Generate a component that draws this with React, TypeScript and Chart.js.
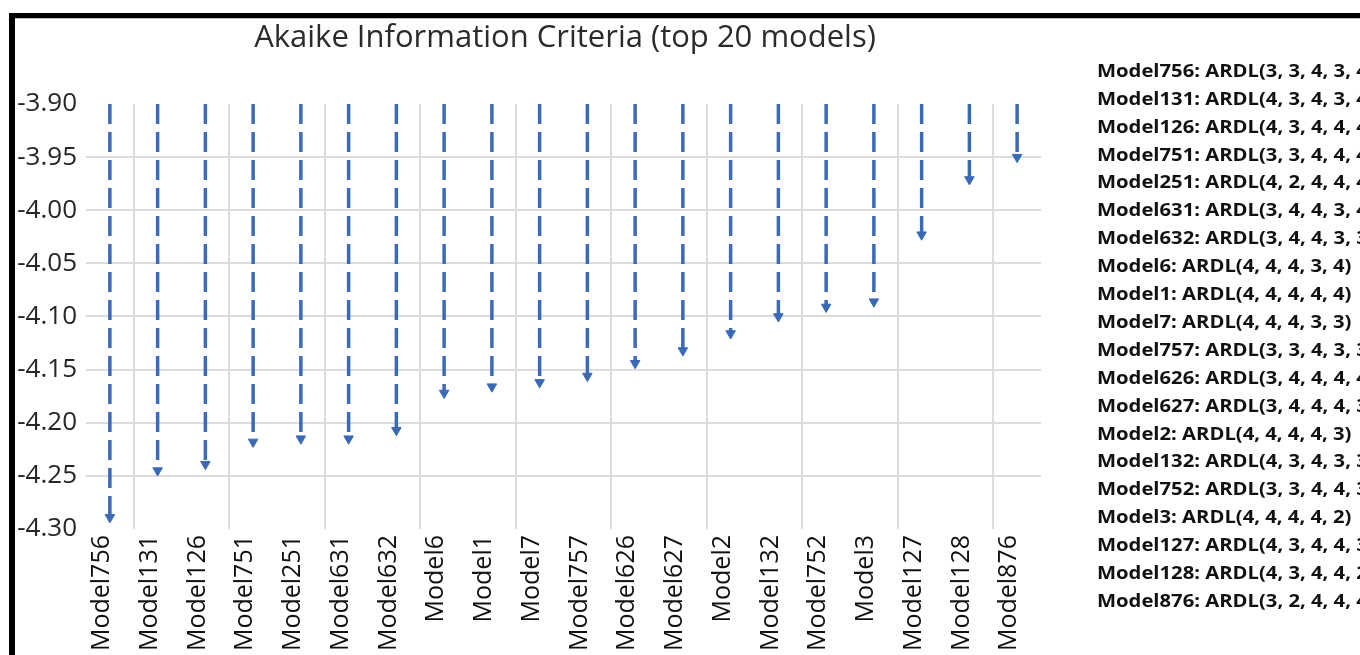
import React, { useEffect, useRef } from 'react';
import { Chart, registerables } from 'chart.js';

Chart.register(...registerables);

const chartTitle = 'Akaike Information Criteria (top 20 models)';

const categories = [
  'Model756', 'Model131', 'Model126', 'Model751', 'Model251',
  'Model631', 'Model632', 'Model6', 'Model1', 'Model7',
  'Model757', 'Model626', 'Model627', 'Model2', 'Model132',
  'Model752', 'Model3', 'Model127', 'Model128', 'Model876',
];

const aicValues = [
  -4.289, -4.245, -4.239, -4.218, -4.215,
  -4.215, -4.207, -4.172, -4.166, -4.162,
  -4.156, -4.144, -4.132, -4.116, -4.100,
  -4.091, -4.086, -4.023, -3.971, -3.950,
];

const ardlSpecs = [
  'ARDL(3, 3, 4, 3, 4)', 'ARDL(4, 3, 4, 3, 4)', 'ARDL(4, 3, 4, 4, 4)', 'ARDL(3, 3, 4, 4, 4)',
  'ARDL(4, 2, 4, 4, 4)', 'ARDL(3, 4, 4, 3, 4)', 'ARDL(3, 4, 4, 3, 3)', 'ARDL(4, 4, 4, 3, 4)',
  'ARDL(4, 4, 4, 4, 4)', 'ARDL(4, 4, 4, 3, 3)', 'ARDL(3, 3, 4, 3, 3)', 'ARDL(3, 4, 4, 4, 4)',
  'ARDL(3, 4, 4, 4, 3)', 'ARDL(4, 4, 4, 4, 3)', 'ARDL(4, 3, 4, 3, 3)', 'ARDL(3, 3, 4, 4, 3)',
  'ARDL(4, 4, 4, 4, 2)', 'ARDL(4, 3, 4, 4, 3)', 'ARDL(4, 3, 4, 4, 2)', 'ARDL(3, 2, 4, 4, 4)',
];

const yMin = -4.30;
const yMax = -3.90;
const yStep = 0.05;
const dropFrom = -3.90;

const BLUE = '#3A6AB6';
const GRID = '#DCDCDC';

const decorPlugin = {
  id: 'decor',
  beforeDraw(chart: any) {
    const ctx = chart.ctx;
    ctx.save();
    ctx.fillStyle = '#ffffff';
    ctx.fillRect(0, 0, chart.width, chart.height);
    ctx.restore();
  },
  afterDraw(chart: any) {
    const ctx = chart.ctx;
    ctx.save();
    // title
    ctx.fillStyle = '#2b2b2b';
    ctx.font = '31px "Open Sans"';
    ctx.textAlign = 'center';
    ctx.textBaseline = 'middle';
    ctx.fillText(chartTitle, 565, 38);
    // side annotation list (slightly stretched text, as in the source)
    ctx.fillStyle = '#111111';
    ctx.font = 'bold 17px "Open Sans"';
    ctx.textAlign = 'left';
    categories.forEach((c, i) => {
      ctx.save();
      ctx.translate(1097, 72 + i * 27.9);
      ctx.scale(1.19, 1);
      ctx.fillText(c + ': ' + ardlSpecs[i], 0, 0);
      ctx.restore();
    });
    // frame
    ctx.fillStyle = '#000000';
    ctx.fillRect(9, 13, chart.width - 9, 5);
    ctx.fillRect(9, 13, 6, chart.height - 13);
    ctx.fillStyle = '#BBBBBB';
    ctx.fillRect(15, 18, chart.width - 15, 1);
    ctx.restore();
  },
};

export default function App() {
  const ref = useRef<HTMLCanvasElement | null>(null);

  useEffect(() => {
    if (!ref.current) return;
    const data: any[] = [];
    categories.forEach((c, i) => {
      data.push({ x: c, y: dropFrom });
      data.push({ x: c, y: aicValues[i] });
      data.push({ x: c, y: null });
    });
    const chart = new Chart(ref.current, {
      type: 'line',
      data: {
        labels: categories,
        datasets: [
          {
            data,
            borderColor: BLUE,
            backgroundColor: BLUE,
            borderWidth: 3.5,
            borderDash: [20, 8],
            spanGaps: false,
            pointStyle: 'triangle',
            rotation: 180,
            pointRadius: (ctx: any) => (ctx.dataIndex % 3 === 1 ? 5.5 : 0),
            pointBorderWidth: 1,
            pointBorderColor: BLUE,
            pointBackgroundColor: BLUE,
            pointHoverRadius: 0,
          } as any,
        ],
      },
      options: {
        responsive: false,
        animation: false,
        events: [],
        layout: { padding: { left: 0, top: 104, right: 319, bottom: 0 } },
        plugins: {
          legend: { display: false },
          title: { display: false },
          tooltip: { enabled: false },
        },
        scales: {
          x: {
            type: 'category',
            offset: true,
            border: { display: false },
            grid: {
              offset: true,
              drawTicks: false,
              lineWidth: 2,
              color: (ctx: any) => (ctx.index % 2 === 1 ? GRID : 'rgba(0,0,0,0)'),
            },
            ticks: {
              autoSkip: false,
              minRotation: 90,
              maxRotation: 90,
              padding: 6,
              labelOffset: -8,
              color: '#111111',
              font: { family: 'Open Sans', size: 25 },
            },
            afterFit: (scale: any) => {
              scale.height = 126;
            },
          },
          y: {
            type: 'linear',
            min: yMin,
            max: yMax,
            border: { display: false },
            grid: {
              drawTicks: false,
              lineWidth: 2,
              color: (ctx: any) => {
                const v = ctx.tick ? ctx.tick.value : NaN;
                if (Math.abs(v - yMin) < 1e-6 || Math.abs(v - yMax) < 1e-6) return 'rgba(0,0,0,0)';
                return GRID;
              },
            },
            ticks: {
              stepSize: yStep,
              padding: 9,
              color: '#262626',
              font: { family: 'Open Sans', size: 26 },
              callback: (v: any) => Number(v).toFixed(2),
            },
            afterFit: (scale: any) => {
              scale.width = 86;
            },
          },
        },
      },
      plugins: [decorPlugin],
    } as any);
    return () => chart.destroy();
  }, []);

  return (
    <div style={{ position: 'fixed', left: 0, top: 0, width: 1360, height: 655, background: '#fff' }}>
      <canvas ref={ref} width={1360} height={655} style={{ display: 'block' }} />
    </div>
  );
}
